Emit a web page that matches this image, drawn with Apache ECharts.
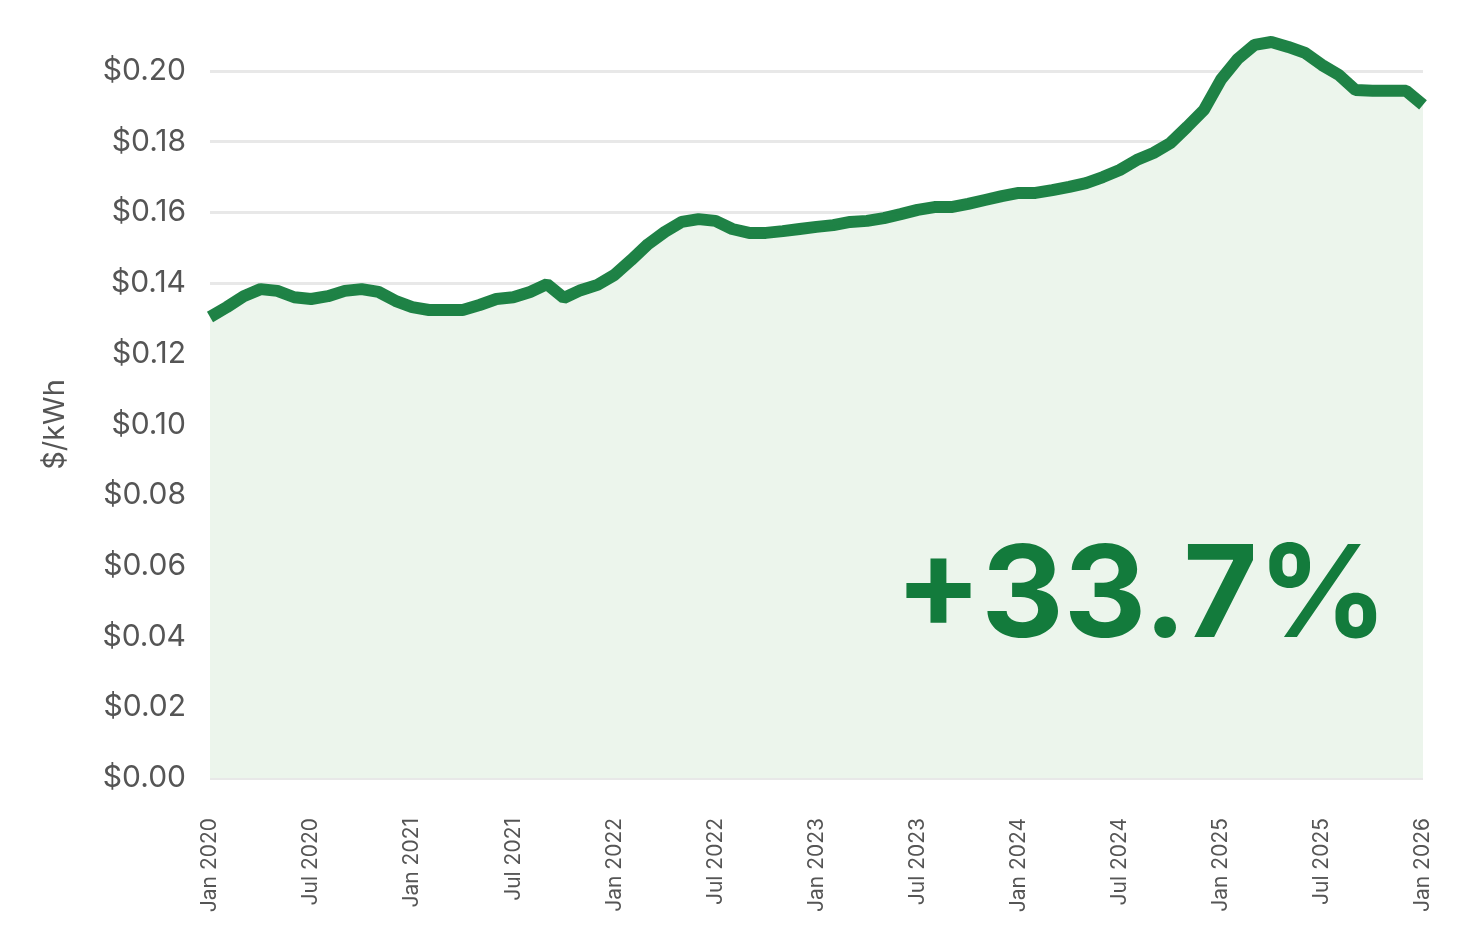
<!DOCTYPE html><html><head><meta charset="utf-8"><script src="https://cdn.jsdelivr.net/npm/echarts@6/dist/echarts.min.js"></script>
<style>html,body{margin:0;background:#fff}#c{width:1457px;height:948px}</style></head><body><div id="c"></div><script>
const months=['Jan','Feb','Mar','Apr','May','Jun','Jul','Aug','Sep','Oct','Nov','Dec'];
const categories=[];for(let y=2020;y<=2026;y++)for(let m=0;m<12;m++){if(y===2026&&m>0)break;categories.push(months[m]+' '+y);}
const prices=[0.1304,0.1332,0.1363,0.1383,0.1378,0.136,0.1355,0.1363,0.1378,0.1383,0.1375,0.135,0.1332,0.1324,0.1324,0.1324,0.1338,0.1355,0.136,0.1375,0.1397,0.1358,0.138,0.1395,0.1423,0.1465,0.151,0.1545,0.1573,0.1581,0.1576,0.1553,0.1542,0.1542,0.1547,0.1553,0.1559,0.1564,0.1573,0.1576,0.1584,0.1595,0.1607,0.1615,0.1615,0.1624,0.1635,0.1646,0.1655,0.1655,0.1663,0.1672,0.1683,0.17,0.172,0.1748,0.1768,0.1796,0.1842,0.189,0.1975,0.2034,0.2074,0.2082,0.2068,0.2051,0.2017,0.1989,0.1946,0.1944,0.1944,0.1944,0.1904];
const changeLabel='+33.7%';
const ch=echarts.init(document.getElementById('c'));
ch.setOption({animation:false,
grid:{left:210,right:34,top:71,bottom:170},
xAxis:{type:'category',boundaryGap:false,data:categories,axisLine:{show:false},axisTick:{show:false},
 axisLabel:{interval:5,rotate:90,color:'#555',fontSize:21,fontFamily:'Inter',margin:40,showMaxLabel:true}},
yAxis:{type:'value',min:0,max:0.2,interval:0.02,name:'$/kWh',nameLocation:'middle',nameGap:140,nameTextStyle:{color:'#555',fontSize:29,fontFamily:'Inter'},
 axisLabel:{formatter:v=>'$'+v.toFixed(2),color:'#555',fontSize:30,fontFamily:'Inter',margin:24},
 splitLine:{lineStyle:{color:'#e8e8e8',width:3}}},
series:[{type:'line',data:prices,clip:false,symbol:'none',lineStyle:{color:'#137b3c',width:12,opacity:0.95},
 areaStyle:{color:'#ecf5ec',opacity:1}}],
graphic:[{type:'text',z:100,left:895,top:535,style:{text:changeLabel,fill:'#137b3c',fontSize:128,fontWeight:'bold',fontFamily:'Inter'}}]
});
</script></body></html>
